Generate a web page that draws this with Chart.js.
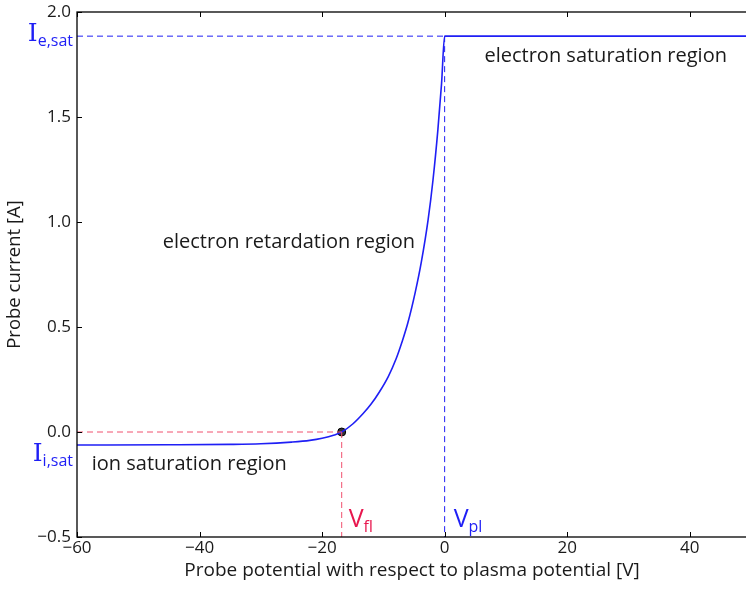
<!DOCTYPE html>
<html>
<head>
<meta charset="utf-8">
<script src="https://cdn.jsdelivr.net/npm/chart.js@4/dist/chart.umd.min.js"></script>
<style>
  html, body { margin: 0; padding: 0; background: #fff; overflow: hidden; }
  #wrap { width: 756px; height: 589px; }
</style>
</head>
<body>
<div id="wrap"><canvas id="iv-chart" width="756" height="589"></canvas></div>
<script>
// probe I-V characteristic (potential in V, current in A)
const potential = [-60, -45, -35, -30, -25, -22, -20, -18, -16.8, -15, -13.3, -12, -10.6, -9.2, -7.9, -7.0, -6.0, -4.8, -3.8, -2.7, -1.9, -1.1, -0.5, 0, 50];
const current   = [-0.062, -0.061, -0.059, -0.056, -0.048, -0.040, -0.030, -0.014, 0.0, 0.038, 0.088, 0.133, 0.193, 0.264, 0.350, 0.425, 0.520, 0.665, 0.810, 1.010, 1.200, 1.440, 1.660, 1.885, 1.885];

const vFloat = -16.8;
const vPlasma = 0;
const iIonSat = -0.062;
const iElecSat = 1.885;

const xTicks = [-60, -40, -20, 0, 20, 40];
const yTicks = [-0.5, 0.0, 0.5, 1.0, 1.5, 2.0];

const regionLabels = [
    { text: 'electron saturation region', x: 6.5, y: 1.76 },
    { text: 'electron retardation region', x: -46, y: 0.876 },
    { text: 'ion saturation region', x: -57.6, y: -0.181 }
];

const BLUE = '#1f1ff5';
const RED = '#f0506e';
const RED_TEXT = '#e8174e';
const INK = '#1a1a1a';
const FONT = '"Open Sans", "DejaVu Sans", sans-serif';

const minus = s => s.replace('-', '\u2212');

const curve = potential.map((v, i) => ({ x: v, y: current[i] }));

function dashed(points, color) {
    return { data: points, borderColor: color, borderWidth: 1, borderDash: [6, 4], pointRadius: 0, showLine: true, fill: false };
}

// frame, inward ticks, axis titles and annotation text
const decorations = {
    id: 'decorations',
    afterDatasetsDraw(chart) {
        const { ctx, chartArea: a, scales: { x, y } } = chart;
        ctx.save();
        ctx.strokeStyle = '#000';
        ctx.lineWidth = 1.3;
        ctx.strokeRect(a.left, a.top, a.right - a.left, a.bottom - a.top);

        ctx.lineWidth = 1;
        ctx.beginPath();
        xTicks.forEach(v => {
            const px = Math.round(x.getPixelForValue(v)) + 0.5;
            ctx.moveTo(px, a.bottom); ctx.lineTo(px, a.bottom - 5);
            ctx.moveTo(px, a.top); ctx.lineTo(px, a.top + 5);
        });
        yTicks.forEach(v => {
            const py = Math.round(y.getPixelForValue(v)) + 0.5;
            ctx.moveTo(a.left, py); ctx.lineTo(a.left + 5, py);
            ctx.moveTo(a.right, py); ctx.lineTo(a.right - 5, py);
        });
        ctx.stroke();

        // axis titles
        ctx.fillStyle = INK;
        ctx.font = '19px ' + FONT;
        ctx.textAlign = 'center';
        ctx.textBaseline = 'alphabetic';
        ctx.fillText('Probe potential with respect to plasma potential [V]', (a.left + a.right) / 2 - 2, 576);
        ctx.save();
        ctx.translate(15, (a.top + a.bottom) / 2);
        ctx.rotate(-Math.PI / 2);
        ctx.textBaseline = 'middle';
        ctx.font = '18.5px ' + FONT;
        ctx.fillText('Probe current [A]', 0, 0);
        ctx.restore();

        // region names
        ctx.font = '20px ' + FONT;
        ctx.textAlign = 'left';
        regionLabels.forEach(r => ctx.fillText(r.text, x.getPixelForValue(r.x), y.getPixelForValue(r.y)));

        // symbol with subscript
        function symbol(main, sub, x0, base, color, mainFont, alignRight) {
            ctx.fillStyle = color;
            ctx.font = '16px ' + FONT;
            const sw = ctx.measureText(sub).width;
            ctx.font = mainFont;
            const mw = ctx.measureText(main).width;
            if (alignRight) x0 -= sw + mw;
            ctx.fillText(main, x0, base);
            ctx.font = '16px ' + FONT;
            ctx.fillText(sub, x0 + mw, base + 5);
        }
        const serif = '25px "DejaVu Serif", serif';
        symbol('I', 'e,sat', a.left - 4, y.getPixelForValue(iElecSat) + 5, BLUE, serif, true);
        symbol('I', 'i,sat', a.left - 4, y.getPixelForValue(iIonSat) + 16, BLUE, serif, true);
        symbol('V', 'fl', x.getPixelForValue(vFloat) + 7, a.bottom - 10, RED_TEXT, '25px ' + FONT, false);
        symbol('V', 'pl', x.getPixelForValue(vPlasma) + 9, a.bottom - 10, BLUE, '25px ' + FONT, false);
        ctx.restore();
    }
};

new Chart(document.getElementById('iv-chart'), {
    type: 'scatter',
    data: {
        datasets: [
            dashed([{ x: -60, y: 0 }, { x: vFloat, y: 0 }], RED),
            dashed([{ x: vFloat, y: 0 }, { x: vFloat, y: -0.5 }], RED),
            dashed([{ x: -60, y: iElecSat }, { x: vPlasma, y: iElecSat }], BLUE),
            dashed([{ x: vPlasma, y: iElecSat }, { x: vPlasma, y: -0.5 }], BLUE),
            { data: curve, borderColor: BLUE, borderWidth: 1.6, pointRadius: 0, showLine: true, fill: false, tension: 0.2, cubicInterpolationMode: 'monotone' },
            { data: [{ x: vFloat, y: 0 }], pointRadius: 4, pointBackgroundColor: '#333', pointBorderColor: '#000', pointBorderWidth: 1 }
        ]
    },
    options: {
        responsive: false,
        animation: false,
        layout: { padding: { top: 12, right: 5, left: 0, bottom: 0 } },
        plugins: { legend: { display: false }, tooltip: { enabled: false } },
        scales: {
            x: {
                type: 'linear', min: -60, max: 50,
                afterBuildTicks: s => { s.ticks = xTicks.map(v => ({ value: v })); },
                afterFit: s => { s.height = 52; s.paddingLeft = 0; s.paddingRight = 0; },
                grid: { display: false, drawTicks: false },
                border: { display: false },
                ticks: { color: INK, font: { family: FONT, size: 17 }, padding: 1, maxRotation: 0, callback: v => minus(String(v)) }
            },
            y: {
                type: 'linear', min: -0.5, max: 2.0,
                afterBuildTicks: s => { s.ticks = yTicks.map(v => ({ value: v })); },
                afterFit: s => { s.width = 77; s.paddingTop = 0; s.paddingBottom = 0; },
                grid: { display: false, drawTicks: false },
                border: { display: false },
                ticks: { color: INK, font: { family: FONT, size: 17 }, padding: 6, callback: v => minus(v.toFixed(1)) }
            }
        }
    },
    plugins: [decorations]
});
</script>
</body>
</html>
